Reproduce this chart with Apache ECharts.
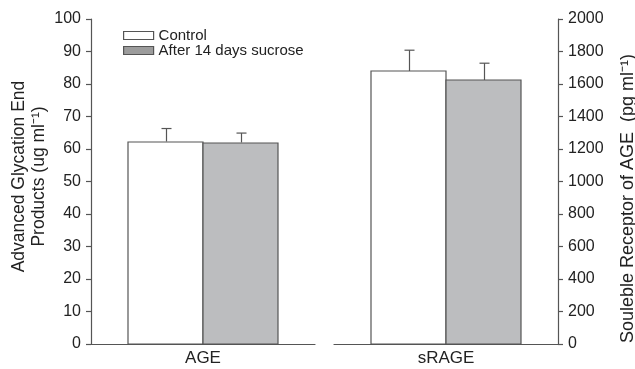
<!DOCTYPE html>
<html><head><meta charset="utf-8">
<script src="https://cdn.jsdelivr.net/npm/echarts@6/dist/echarts.min.js"></script>
<style>html,body{margin:0;padding:0;background:#fff}#c{width:635px;height:369px}</style>
</head><body><div id="c"></div>
<script>
const seriesNames = ['Control', 'After 14 days sucrose'];
const ageCategory = ['AGE'];
const sageCategory = ['sRAGE'];
const ageMeans = [62.3, 62.0];
const ageUpper = [66.3, 64.9];
const sragMeans = [1677, 1622];
const sragUpper = [1808, 1728];
const leftTicks = [0, 100, 10];
const rightTicks = [0, 2000, 200];

const fills = ['#ffffff', '#bcbdbf'];
const legendFills = ['#ffffff', '#9c9c9c'];
const edge = '#555555';
const axisCol = '#555555';
const txt = '#222222';
const font = 'Liberation Sans, Arial, sans-serif';
const BAR_W = 75;

const chart = echarts.init(document.getElementById('c'));

function barSeries(k, xi, yi, value) {
  return {
    name: seriesNames[k], type: 'custom', xAxisIndex: xi, yAxisIndex: yi, z: 2,
    itemStyle: { color: fills[k], borderColor: edge, borderWidth: 1.2 },
    data: [[0, value]],
    renderItem: function (params, api) {
      const b = api.coord([api.value(0), 0]);
      const t = api.coord([api.value(0), api.value(1)]);
      const x = Math.round(b[0]) + (k === 0 ? -BAR_W : 0);
      return { type: 'rect',
        shape: { x: x, y: Math.round(t[1]), width: BAR_W, height: Math.round(b[1]) - Math.round(t[1]) },
        style: { fill: fills[k], stroke: edge, lineWidth: 1.2 } };
    }
  };
}

function errSeries(xi, yi, means, upper) {
  return {
    type: 'custom', xAxisIndex: xi, yAxisIndex: yi, silent: true, z: 1,
    data: means.map((m, i) => [0, m, upper[i], i]),
    renderItem: function (params, api) {
      const idx = api.value(3);
      const off = (idx === 0 ? -1 : 1) * BAR_W / 2;
      const b = api.coord([0, api.value(1)]);
      const t = api.coord([0, api.value(2)]);
      const x = Math.round(b[0] + off) + 0.5;
      const st = { stroke: edge, lineWidth: 1.2 };
      return { type: 'group', children: [
        { type: 'line', shape: { x1: x, y1: b[1], x2: x, y2: t[1] }, style: st },
        { type: 'line', shape: { x1: x - 5, y1: t[1], x2: x + 5, y2: t[1] }, style: st }
      ]};
    }
  };
}

const baseY = {
  type: 'value', splitLine: { show: false },
  axisLine: { show: true, lineStyle: { color: axisCol, width: 1.2 } },
  axisTick: { show: true, length: 5, lineStyle: { color: axisCol, width: 1.2 } },
  axisLabel: { color: txt, fontSize: 16, fontFamily: font, margin: 10, formatter: v => String(v) },
  nameLocation: 'middle', nameRotate: 90
};

const xLab = { color: txt, fontSize: 17, fontFamily: font, margin: 6 };

chart.setOption({
  animation: false,
  backgroundColor: '#fff',
  textStyle: { fontFamily: font },
  grid: [
    { left: 91, right: 320, top: 19, bottom: 25, containLabel: false, outerBoundsMode: 'none' },
    { left: 334, right: 77, top: 19, bottom: 25, containLabel: false, outerBoundsMode: 'none' }
  ],
  legend: {
    data: seriesNames.map((n, i) => ({ name: n, itemStyle: { color: legendFills[i], borderColor: edge, borderWidth: 1.2 } })),
    orient: 'vertical', left: 123, top: 28, padding: 0,
    itemWidth: 30, itemHeight: 8, itemGap: 0,
    textStyle: { color: txt, fontSize: 15, fontFamily: font, lineHeight: 15 },
    icon: 'rect'
  },
  xAxis: [
    { type: 'category', gridIndex: 0, data: ageCategory,
      axisLine: { lineStyle: { color: axisCol, width: 1.2 } }, axisTick: { show: false }, axisLabel: xLab },
    { type: 'category', gridIndex: 1, data: sageCategory,
      axisLine: { lineStyle: { color: axisCol, width: 1.2 } }, axisTick: { show: false }, axisLabel: xLab }
  ],
  yAxis: [
    Object.assign({}, baseY, { gridIndex: 0, min: leftTicks[0], max: leftTicks[1], interval: leftTicks[2],
      name: 'Advanced Glycation End\nProducts (ug ml\u207B\u00B9)', nameGap: 42,
      nameTextStyle: { color: txt, fontSize: 17.5, fontFamily: font, lineHeight: 20, padding: [0, 0, 0, 10] } }),
    Object.assign({}, baseY, { gridIndex: 1, position: 'right', min: rightTicks[0], max: rightTicks[1], interval: rightTicks[2],
      name: 'Souleble Receptor of AGE  (pg ml\u207B\u00B9)', nameGap: 60,
      nameTextStyle: { color: txt, fontSize: 18, fontFamily: font, lineHeight: 20, padding: [0, 34, 0, 0] } })
  ],
  series: [
    barSeries(0, 0, 0, ageMeans[0]),
    barSeries(1, 0, 0, ageMeans[1]),
    barSeries(0, 1, 1, sragMeans[0]),
    barSeries(1, 1, 1, sragMeans[1]),
    errSeries(0, 0, ageMeans, ageUpper),
    errSeries(1, 1, sragMeans, sragUpper)
  ]
});
</script></body></html>
